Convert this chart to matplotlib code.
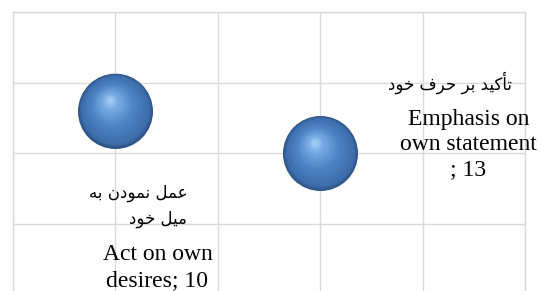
import numpy as np
import matplotlib
matplotlib.use('Agg')
import matplotlib.pyplot as plt
from matplotlib.colors import LinearSegmentedColormap
from matplotlib import transforms

# data
names_en = ['Act on own\ndesires; 10', 'Emphasis on\nown statement\n; 13']
values = [10, 13]
x_pos = [1, 3]
y_pos = [2.6, 2.0]
# persian labels, written in visual order with presentation forms (matplotlib does no shaping)
fa_1 = ['\uFEEA\uFE91 \uFEE5\uFEA9\uFEEE\uFEE4\uFEE7 \uFEDE\uFEE4\uFECB',   # عمل نمودن به
        '\uFEA9\uFEEE\uFEA7 \uFEDE\uFBFF\uFEE3']                            # میل خود
fa_2 = ['\uFEA9\uFEEE\uFEA7 \uFED1\uFEAE\uFEA3 \uFEAE\uFE91 \uFEAA\uFBFF\uFB90\uFE84\uFE97']  # تأکید بر حرف خود

W, H = 541, 291
fig = plt.figure(figsize=(W / 100, H / 100), dpi=100)
ax = fig.add_axes([13 / W, -3 / H, 512 / W, 282 / H])
ax.set_xlim(0, 5)
ax.set_ylim(0, 4)
ax.set_xticks(np.arange(0, 6))
ax.set_yticks(np.arange(0, 5))
ax.tick_params(length=0, labelbottom=False, labelleft=False)
ax.grid(True, color='#d9d9d9', lw=1.0)
ax.set_axisbelow(True)
for s in ['top', 'left', 'right']:
    ax.spines[s].set_color('#d9d9d9')
    ax.spines[s].set_linewidth(1.0)
ax.spines['bottom'].set_visible(False)

# fake 3d sphere: stack of shrinking discs moving towards the highlight
cmap = LinearSegmentedColormap.from_list('sph', [(0, '#2d5385'), (0.1, '#3d6dab'), (0.5, '#4e83c5'),
                                                 (0.85, '#78ace4'), (1, '#a8d0f6')])
R = 37  # px
hx, hy = -6, 11  # highlight offset, px
n = 45
for xv, yv in zip(x_pos, y_pos):
    for i in range(n):
        t = i / (n - 1)
        r = R * (1 - t) ** 0.85 + 0.5
        tr = transforms.offset_copy(ax.transData, fig=fig, x=hx * t * 0.72, y=hy * t * 0.72, units='points')
        d = 2 * r * 0.72
        ax.scatter(xv, yv, s=d ** 2, color=cmap(t), lw=0, transform=tr, zorder=3)

serif = ['Liberation Serif', 'DejaVu Serif']
arab = ['DejaVu Sans']

# label 1
ax.annotate(fa_1[0], (x_pos[0], y_pos[0]), xytext=(72, -87), textcoords='offset pixels',
            ha='right', va='baseline', fontsize=12, family=arab)
ax.annotate(fa_1[1], (x_pos[0], y_pos[0]), xytext=(71, -113), textcoords='offset pixels',
            ha='right', va='baseline', fontsize=12, family=arab)
for k, line in enumerate(names_en[0].split('\n')):
    ax.annotate(line, (x_pos[0], y_pos[0]), xytext=(42, -149 - 26 * k), textcoords='offset pixels',
                ha='center', va='baseline', fontsize=17, family=serif)

# label 2
ax.annotate(fa_2[0], (x_pos[1], y_pos[1]), xytext=(192, 63), textcoords='offset pixels',
            ha='right', va='baseline', fontsize=12, family=arab)
for k, line in enumerate(names_en[1].split('\n')):
    ax.annotate(line, (x_pos[1], y_pos[1]), xytext=(148, 28 - 25 * k), textcoords='offset pixels',
                ha='center', va='baseline', fontsize=17, family=serif)

fig.savefig('out.png', dpi=100)
